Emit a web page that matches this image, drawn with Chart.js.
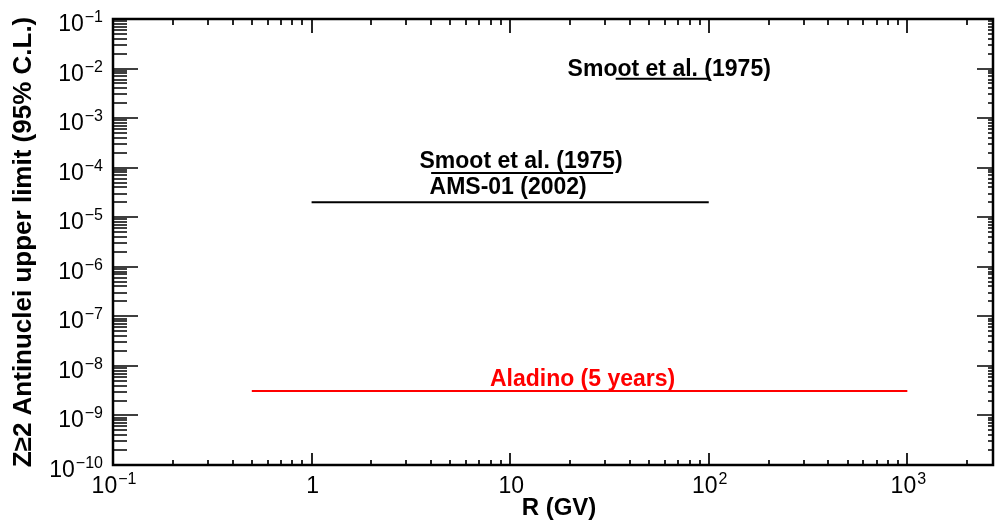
<!DOCTYPE html>
<html>
<head>
<meta charset="utf-8">
<script src="https://cdn.jsdelivr.net/npm/chart.js@4.4.1/dist/chart.umd.min.js"></script>
<style>
  html, body { margin: 0; padding: 0; background: #fff; }
  #wrap { width: 996px; height: 523px; }
</style>
</head>
<body>
<div id="wrap"><canvas id="chart"></canvas></div>
<script>
// limits
const seriesNames = ['Smoot et al. (1975)', 'Smoot et al. (1975)', 'AMS-01 (2002)', 'Aladino (5 years)']
const rigidityFrom = [34, 4, 1, 0.5]
const rigidityTo = [100, 33, 100, 1000]
const upperLimits = [6.2e-3, 7.8e-5, 2e-5, 3.1e-9]
const seriesColors = ['#000000', '#000000', '#000000', '#ff0000']
// label nudges in px (dx, lift above line)
const labelShift = [[7, 3], [-1, 5], [-2, 8], [3, 5]]

const xTickExps = [-1, 0, 1, 2, 3]
const yTickExps = [-1, -2, -3, -4, -5, -6, -7, -8, -9, -10]
const xRange = [0.1, 2700]
const yRange = [1e-10, 1e-1]

const xTitle = 'R (GV)'
const yTitle = 'Z\u22652 Antinuclei upper limit (95% C.L.)'

const FONT = '"Liberation Sans", Arial, Helvetica, sans-serif'

const datasets = seriesNames.map((name, i) => ({
    label: name,
    data: [{ x: rigidityFrom[i], y: upperLimits[i] }, { x: rigidityTo[i], y: upperLimits[i] }],
    borderColor: seriesColors[i],
    backgroundColor: seriesColors[i],
    borderWidth: 2,
    pointRadius: 0,
    showLine: true
}))

const powParts = (e) => {
    if (e === 0) return ['1', '']
    if (e === 1) return ['10', '']
    return ['10', (e < 0 ? '\u2212' : '') + Math.abs(e)]
}

const drawPow = (ctx, e, x, y, align) => {
    const [base, sup] = powParts(e)
    ctx.font = '23px ' + FONT
    const wb = ctx.measureText(base).width
    ctx.font = '16px ' + FONT
    const ws = sup ? ctx.measureText(sup).width + 1 : 0
    const total = wb + ws
    const x0 = align === 'right' ? x - total : x - total / 2
    ctx.textAlign = 'left'
    ctx.textBaseline = 'alphabetic'
    ctx.font = '23px ' + FONT
    ctx.fillText(base, x0, y)
    if (sup) {
        ctx.font = '16px ' + FONT
        ctx.fillText(sup, x0 + wb + 1, y - 9)
    }
}

const minorValues = (min, max) => {
    const out = []
    for (let d = Math.floor(Math.log10(min)); d <= Math.ceil(Math.log10(max)); d++) {
        for (let m = 2; m <= 9; m++) {
            const v = m * Math.pow(10, d)
            if (v > min && v < max) out.push(v)
        }
    }
    return out
}

const framePlugin = {
    id: 'frame',
    afterDraw(chart) {
        const { ctx, chartArea: a, scales } = chart
        const xs = scales.x, ys = scales.y
        ctx.save()
        ctx.strokeStyle = '#000'
        ctx.fillStyle = '#000'

        // ticks, pointing inward
        ctx.lineWidth = 1.7
        ctx.beginPath()
        xTickExps.forEach(e => {
            const px = Math.round(xs.getPixelForValue(Math.pow(10, e)))
            ctx.moveTo(px, a.bottom); ctx.lineTo(px, a.bottom - 12)
            ctx.moveTo(px, a.top); ctx.lineTo(px, a.top + 14)
        })
        minorValues(xRange[0], xRange[1]).forEach(v => {
            const px = Math.round(xs.getPixelForValue(v))
            ctx.moveTo(px, a.bottom); ctx.lineTo(px, a.bottom - 5)
            ctx.moveTo(px, a.top); ctx.lineTo(px, a.top + 6)
        })
        yTickExps.forEach(e => {
            const py = Math.round(ys.getPixelForValue(Math.pow(10, e)))
            ctx.moveTo(a.left, py); ctx.lineTo(a.left + 25, py)
            ctx.moveTo(a.right, py); ctx.lineTo(a.right - 16, py)
        })
        minorValues(yRange[0], yRange[1]).forEach(v => {
            const py = Math.round(ys.getPixelForValue(v))
            ctx.moveTo(a.left, py); ctx.lineTo(a.left + 14, py)
            ctx.moveTo(a.right, py); ctx.lineTo(a.right - 5, py)
        })
        ctx.stroke()

        // frame
        ctx.lineWidth = 2.5
        ctx.strokeRect(a.left, a.top, a.right - a.left, a.bottom - a.top)

        // tick labels
        xTickExps.forEach(e => {
            drawPow(ctx, e, xs.getPixelForValue(Math.pow(10, e)) + 1, a.bottom + 28, 'center')
        })
        yTickExps.forEach(e => {
            drawPow(ctx, e, a.left - 10, ys.getPixelForValue(Math.pow(10, e)) + 12, 'right')
        })

        // axis titles
        ctx.textAlign = 'center'
        ctx.textBaseline = 'alphabetic'
        ctx.font = 'bold 24px ' + FONT
        ctx.fillText(xTitle, (a.left + a.right) / 2 + 6, a.bottom + 50)
        ctx.save()
        ctx.font = 'bold 26px ' + FONT
        ctx.translate(31, (a.top + a.bottom) / 2)
        ctx.rotate(-Math.PI / 2)
        ctx.fillText(yTitle, 0, 0)
        ctx.restore()

        // series labels above their lines
        ctx.font = 'bold 23px ' + FONT
        seriesNames.forEach((name, i) => {
            const x1 = xs.getPixelForValue(rigidityFrom[i])
            const x2 = xs.getPixelForValue(rigidityTo[i])
            const py = ys.getPixelForValue(upperLimits[i])
            ctx.fillStyle = seriesColors[i]
            ctx.fillText(name, (x1 + x2) / 2 + labelShift[i][0], py - labelShift[i][1])
        })
        ctx.restore()
    }
}

new Chart(document.getElementById('chart').getContext('2d'), {
    type: 'scatter',
    data: { datasets },
    options: {
        responsive: true,
        maintainAspectRatio: false,
        animation: false,
        layout: { padding: { left: 113, right: 3, top: 19, bottom: 58 } },
        plugins: { legend: { display: false }, tooltip: { enabled: false } },
        scales: {
            x: { type: 'logarithmic', min: xRange[0], max: xRange[1], display: false },
            y: { type: 'logarithmic', min: yRange[0], max: yRange[1], display: false }
        }
    },
    plugins: [framePlugin]
})
</script>
</body>
</html>
